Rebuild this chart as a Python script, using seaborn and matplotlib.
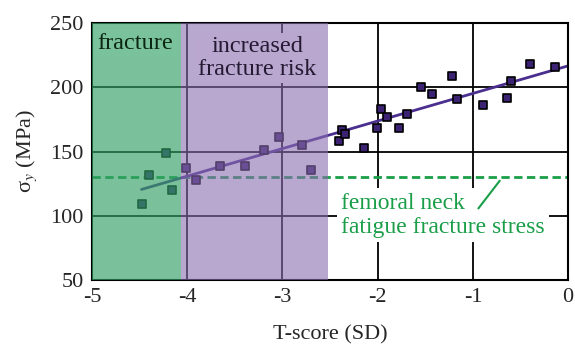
import numpy as np
import pandas as pd
import matplotlib
matplotlib.use("Agg")
import matplotlib.pyplot as plt
import seaborn as sns

#----- data -----
t_score = [-4.48, -4.40, -4.22, -4.16, -4.01, -3.91, -3.66, -3.39, -3.19, -3.04,
           -2.79, -2.70, -2.41, -2.37, -2.34, -2.14, -2.01, -1.97, -1.90, -1.78,
           -1.69, -1.55, -1.43, -1.22, -1.17, -0.89, -0.64, -0.60, -0.40, -0.14]
sigma_y = [109, 132, 149, 120, 137, 128, 139, 139, 151, 161,
           155, 136, 158, 167, 164, 153, 168, 183, 177, 168,
           179, 200, 195, 209, 191, 186, 192, 205, 218, 216]
fatigue_stress = 130
fracture_band = (-5.0, -4.07)
risk_band = (-4.07, -2.52)
x_ticks = [-5, -4, -3, -2, -1, 0]
y_ticks = [50, 100, 150, 200, 250]

df = pd.DataFrame({"t": t_score, "s": sigma_y})

#----- style -----
sns.set_style("white")
plt.rcParams["font.family"] = ["Liberation Serif", "DejaVu Serif"]
plt.rcParams["mathtext.fontset"] = "stix"
plt.rcParams["axes.unicode_minus"] = False

GREEN_BAND = "#33a165"
PURPLE_BAND = "#8a6caf"
GREEN_SEEN = "#7ac29b"    # band colour as it appears over white
PURPLE_SEEN = "#b9a7cf"

fig = plt.figure(figsize=(5.75, 3.44), dpi=100)
ax = fig.add_axes([0.16, 0.186, 0.828, 0.747])

# grid
for xv in x_ticks[1:-1]:
    ax.axvline(xv, color="black", lw=1.3, zorder=1)
for yv in y_ticks[1:-1]:
    ax.axhline(yv, color="black", lw=1.3, zorder=1)

# fatigue fracture stress
ax.axhline(fatigue_stress, color="#1a9e48", lw=2, ls=(0, (3, 1.6)), zorder=2)

# fit line
slope, icpt = np.polyfit(df["t"], df["s"], 1)
fit_x = np.array([df["t"].min(), x_ticks[-1]])
sns.lineplot(x=fit_x, y=icpt + slope * fit_x, color="#4a2f8f", lw=2, ax=ax, zorder=3)

# points
sns.scatterplot(data=df, x="t", y="s", marker="s", s=40, color="#3b2272",
                edgecolor="black", linewidth=1.2, ax=ax, zorder=4)

# translucent bands on top of the data
ax.axvspan(*fracture_band, color=GREEN_BAND, alpha=0.65, lw=0, zorder=6)
ax.axvspan(*risk_band, color=PURPLE_BAND, alpha=0.6, lw=0, zorder=6)

# region labels
ax.text(np.mean(fracture_band) - 0.01, 234, "fracture", ha="center", va="center",
        fontsize=17.5, color="#0d2614", zorder=7,
        bbox=dict(facecolor=GREEN_SEEN, edgecolor="none", pad=2))
ax.text(np.mean(risk_band) + 0.03, 223, "increased\nfracture risk", ha="center",
        va="center", fontsize=17.5, color="#241a33", zorder=7, linespacing=1.15,
        bbox=dict(facecolor=PURPLE_SEEN, edgecolor="none", pad=2))

# annotation for fatigue stress
ax.text(-2.38, 100.5, "femoral neck\nfatigue fracture stress", ha="left", va="center",
        fontsize=17, color="#1a9e48", linespacing=1.2, zorder=7,
        bbox=dict(facecolor="white", edgecolor="none", pad=3))
ax.annotate("", xy=(-0.70, fatigue_stress - 1), xytext=(-0.96, 104),
            arrowprops=dict(arrowstyle="-", color="#1a9e48", lw=1.5), zorder=7)

ax.set_xlim(x_ticks[0], x_ticks[-1])
ax.set_ylim(y_ticks[0], y_ticks[-1])
ax.set_xticks(x_ticks)
ax.set_yticks(y_ticks)
ax.tick_params(length=0, labelsize=16, pad=6)
for sp in ax.spines.values():
    sp.set_color("black")
    sp.set_linewidth(1.5)
    sp.set_zorder(5.5)
ax.set_xlabel("T-score (SD)", fontsize=16, labelpad=13)
ax.set_ylabel("σ$_y$ (MPa)", fontsize=16, labelpad=8)

fig.savefig("out.png", dpi=100)
